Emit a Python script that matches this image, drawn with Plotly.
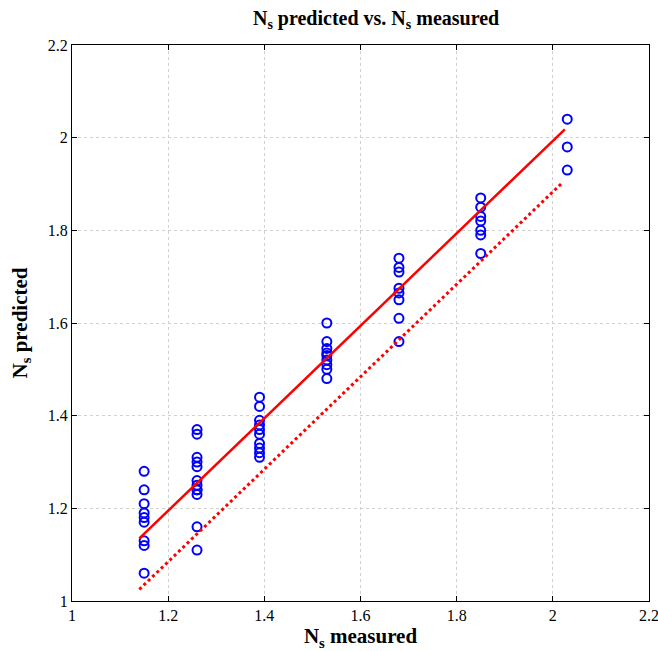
import plotly.graph_objects as go

# Measured Ns columns and predicted values
x_115 = [1.28, 1.24, 1.21, 1.19, 1.18, 1.17, 1.13, 1.12, 1.06]
x_126 = [1.37, 1.36, 1.31, 1.30, 1.29, 1.26, 1.25, 1.24, 1.24, 1.23, 1.16, 1.11]
x_139 = [1.44, 1.42, 1.39, 1.38, 1.37, 1.36, 1.34, 1.33, 1.32, 1.31]
x_153 = [1.60, 1.56, 1.545, 1.535, 1.53, 1.52, 1.51, 1.50, 1.48]
x_168 = [1.74, 1.72, 1.71, 1.675, 1.665, 1.65, 1.61, 1.56]
x_185 = [1.87, 1.85, 1.83, 1.82, 1.80, 1.79, 1.75]
x_203 = [2.04, 1.98, 1.93]

measured_levels = [1.15, 1.26, 1.39, 1.53, 1.68, 1.85, 2.03]
predicted_groups = [x_115, x_126, x_139, x_153, x_168, x_185, x_203]

fit_x = [1.14, 2.025]
fit_y = [1.135, 2.018]
ref_x = [1.14, 2.02]
ref_y = [1.025, 1.903]

tick_vals = [1.0, 1.2, 1.4, 1.6, 1.8, 2.0, 2.2]

xs, ys = [], []
for lvl, grp in zip(measured_levels, predicted_groups):
    xs += [lvl] * len(grp)
    ys += grp

serif = "Liberation Serif"

fig = go.Figure()
fig.add_trace(go.Scatter(
    x=xs, y=ys, mode="markers",
    marker=dict(symbol="circle-open", size=9, color="#0000ff", line=dict(width=2, color="#0000ff")),
    showlegend=False))
fig.add_trace(go.Scatter(
    x=fit_x, y=fit_y, mode="lines",
    line=dict(color="#ff0000", width=2.5), showlegend=False))
fig.add_trace(go.Scatter(
    x=ref_x, y=ref_y, mode="lines",
    line=dict(color="#ff0000", width=3, dash="dot"), showlegend=False))

axis_common = dict(
    range=[1, 2.2], tickvals=tick_vals, ticks="inside", ticklen=5, tickcolor="#000",
    showline=True, linecolor="#000", linewidth=1, mirror="ticks",
    showgrid=True, gridcolor="#d0d0d0", griddash="dot", gridwidth=1,
    zeroline=False, tickfont=dict(family=serif, size=16, color="#000"),
    automargin=False, ticklabeloverflow="allow",
)

fig.update_layout(
    width=658, height=651,
    paper_bgcolor="white", plot_bgcolor="white",
    margin=dict(l=72, r=9, t=45, b=50),
    title=dict(text="<b>N<sub>s</sub> predicted vs. N<sub>s</sub> measured</b>",
               x=0.527, xanchor="center", xref="paper", y=0.972, yanchor="middle",
               font=dict(family=serif, size=20, color="#000")),
)
fig.update_xaxes(**axis_common,
                 title=dict(text="<b>N<sub>s</sub> measured</b>", standoff=3,
                            font=dict(family=serif, size=21, color="#000")))
fig.update_yaxes(**axis_common,
                 title=dict(text="<b>N<sub>s</sub> predicted</b>", standoff=14,
                            font=dict(family=serif, size=21, color="#000")))

fig.write_html("out.html",
               config={"displayModeBar": False},
               post_script="document.body.style.margin='0';document.body.style.overflow='hidden';")
